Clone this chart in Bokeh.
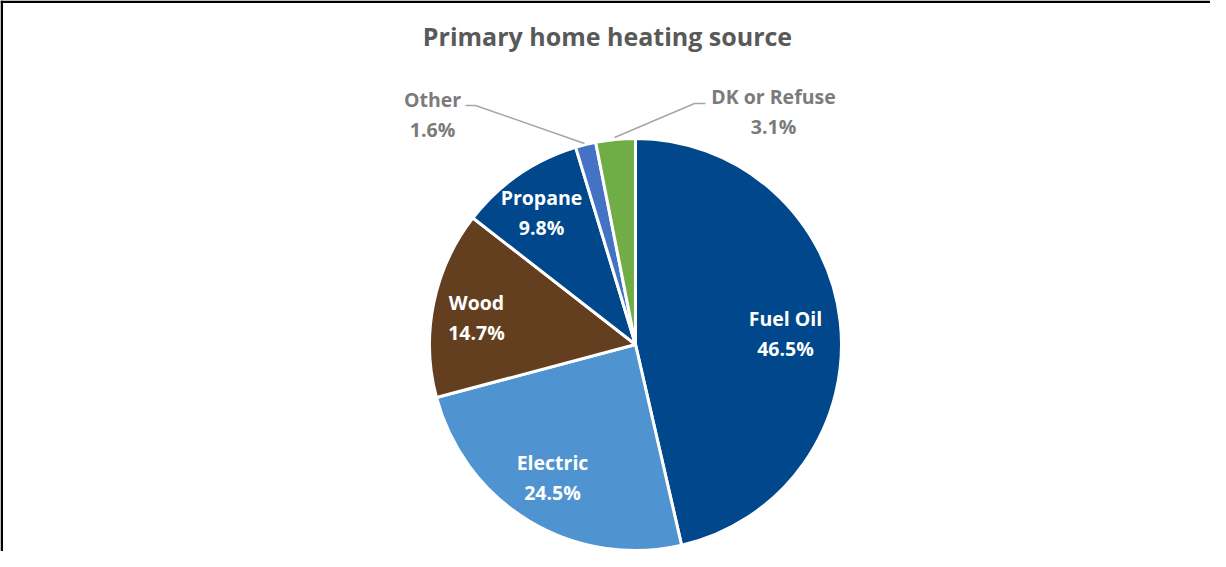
import math
from bokeh.plotting import figure
from bokeh.models import Range1d, ColumnDataSource
from bokeh.core.properties import value
from bokeh.embed import file_html
from bokeh.resources import INLINE

categories = ["Fuel Oil", "Electric", "Wood", "Propane", "Other", "DK or Refuse"]
shares = [46.5, 24.5, 14.7, 9.8, 1.6, 3.1]
pct_labels = ["46.5%", "24.5%", "14.7%", "9.8%", "1.6%", "3.1%"]
colors = ["#00488B", "#4F93D0", "#633F1F", "#00488B", "#4472C4", "#70AD47"]

W, H = 1210, 551
# data coords: x = screen x, y = 567 - screen y
p = figure(width=W, height=H, output_backend="svg", toolbar_location=None,
           x_axis_location=None, y_axis_location=None,
           x_range=Range1d(8, 8 + W), y_range=Range1d(567 - 8 - H, 559),
           min_border=0)
p.border_fill_color = "white"
p.background_fill_color = "white"
p.outline_line_color = None
p.grid.visible = False

def sy(y):
    return 567 - y

# chart-area border (top and left edges)
p.quad(left=[8, 8], right=[10.5, 8 + W], top=[559, 559], bottom=[0, 559 - 2.5],
       fill_color="black", line_color=None)

cx, cy, r = 643, sy(352), 206
total = sum(shares)
starts, ends = [], []
cum = 0.0
for s in shares:
    a0 = math.pi / 2 - 2 * math.pi * cum / total
    cum += s
    a1 = math.pi / 2 - 2 * math.pi * cum / total
    starts.append(a1)
    ends.append(a0)

src = ColumnDataSource(dict(x=[cx] * len(shares), y=[cy] * len(shares),
                            start=starts, end=ends, color=colors, cat=categories))
p.wedge(x="x", y="y", radius=r, radius_units="screen", start_angle="start", end_angle="end",
        fill_color="color", line_color="white", line_width=3, source=src)

font = value("Open Sans")
# title
p.text(x=[615], y=[sy(43)], text=["Primary home heating source"], text_font=font,
       text_font_style="bold", text_font_size="25px", text_color="#595959",
       text_align="center", text_baseline="middle")

inside = {"Fuel Oil": (793, 326), "Electric": (560, 470), "Wood": (484, 310), "Propane": (549, 205)}
outside = {"Other": (440, 107), "DK or Refuse": (781, 104)}
lx, ly, lt, lc = [], [], [], []
for cat, pl in zip(categories, pct_labels):
    if cat in inside:
        x, y = inside[cat]
        c = "white"
    else:
        x, y = outside[cat]
        c = "#7B7B7B"
    lx += [x, x]
    ly += [sy(y), sy(y + 30)]
    lt += [cat, pl]
    lc += [c, c]
p.text(x=lx, y=ly, text=lt, text_color=lc, text_font=font, text_font_style="bold",
       text_font_size="19.5px", text_align="center", text_baseline="middle")

# leader lines
p.line(x=[473, 483, 592], y=[sy(113), sy(113), sy(151)], line_color="#A6A6A6", line_width=1.5)
p.line(x=[622, 702, 713], y=[sy(145), sy(111), sy(111)], line_color="#A6A6A6", line_width=1.5)

open("out.html", "w").write(file_html(p, INLINE))
